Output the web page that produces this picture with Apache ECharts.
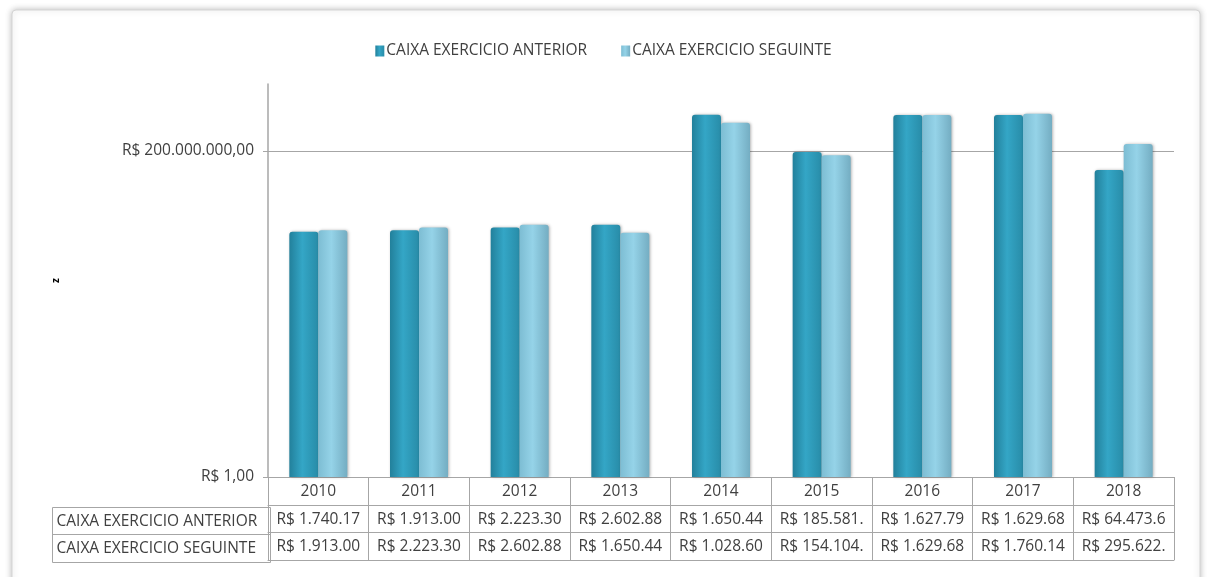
<!DOCTYPE html>
<html>
<head>
<meta charset="utf-8">
<script src="https://cdn.jsdelivr.net/npm/echarts@6/dist/echarts.min.js"></script>
<style>
  html, body { margin: 0; padding: 0; background: #fff; }
  #chart { width: 1207px; height: 577px; }
</style>
</head>
<body>
<div id="chart"></div>
<script>
const years = ['2010', '2011', '2012', '2013', '2014', '2015', '2016', '2017', '2018'];
const seriesNames = ['CAIXA EXERCICIO ANTERIOR', 'CAIXA EXERCICIO SEGUINTE'];

// valores estimados pela altura das barras + tabela
const caixaAnterior = [1740170, 1913000, 2223300, 2602880, 1650440000, 185581000, 1627790000, 1629680000, 64473600];
const caixaSeguinte = [1913000, 2223300, 2602880, 1650440, 1028600000, 154104000, 1629680000, 1760140000, 295622000];

// texto da tabela como aparece (cortado) no original
const tabelaAnterior = ['R$ 1.740.17', 'R$ 1.913.00', 'R$ 2.223.30', 'R$ 2.602.88', 'R$ 1.650.44', 'R$ 185.581.', 'R$ 1.627.79', 'R$ 1.629.68', 'R$ 64.473.6'];
const tabelaSeguinte = ['R$ 1.913.00', 'R$ 2.223.30', 'R$ 2.602.88', 'R$ 1.650.44', 'R$ 1.028.60', 'R$ 154.104.', 'R$ 1.629.68', 'R$ 1.760.14', 'R$ 295.622.'];

const FONT = 'Open Sans';
const FS = 15.5;
const TXT = '#404040';
const LINE = '#a6a6a6';

const chart = echarts.init(document.getElementById('chart'));

function formatReal(v) {
  const n = Math.round(v);
  return 'R$ ' + String(n).replace(/\B(?=(\d{3})+(?!\d))/g, '.') + ',00';
}

const corAnterior = new echarts.graphic.LinearGradient(0, 0, 1, 0, [
  { offset: 0, color: '#22809b' },
  { offset: 0.45, color: '#34a6c6' },
  { offset: 1, color: '#288ca8' }
]);
const corSeguinte = new echarts.graphic.LinearGradient(0, 0, 1, 0, [
  { offset: 0, color: '#7dbdd3' },
  { offset: 0.45, color: '#95d3e8' },
  { offset: 1, color: '#74adc2' }
]);

function tableAxis(offset, labels, tickLen) {
  return {
    type: 'category',
    position: 'bottom',
    offset: offset,
    data: years,
    axisLine: { show: true, lineStyle: { color: LINE, width: 1 } },
    axisTick: { show: tickLen > 0, interval: 0, length: tickLen, lineStyle: { color: LINE } },
    axisLabel: {
      show: !!labels,
      interval: 0,
      margin: 7,
      color: TXT,
      fontFamily: FONT,
      fontSize: FS,
      formatter: (v, i) => labels ? labels[i] : ''
    },
    splitLine: { show: false }
  };
}

const option = {
  backgroundColor: '#fff',
  graphic: [
    {
      type: 'rect',
      shape: { x: 12, y: 10, width: 1188, height: 590, r: 4 },
      style: { fill: '#fff', stroke: '#d4d4d4', lineWidth: 1, shadowBlur: 6, shadowColor: 'rgba(0,0,0,0.25)' },
      z: -10
    },
    {
      type: 'group',
      left: 50,
      top: 505,
      children: [
        { type: 'rect', shape: { x: 0, y: 0, width: 218, height: 55 }, style: { fill: 'none', stroke: LINE, lineWidth: 1 } },
        { type: 'line', shape: { x1: 0, y1: 27, x2: 218, y2: 27 }, style: { stroke: LINE, lineWidth: 1 } },
        { type: 'text', style: { x: 4, y: 14, text: seriesNames[0], fill: TXT, font: FS + 'px "' + FONT + '"', verticalAlign: 'middle' } },
        { type: 'text', style: { x: 4, y: 41, text: seriesNames[1], fill: TXT, font: FS + 'px "' + FONT + '"', verticalAlign: 'middle' } }
      ]
    }
  ],
  legend: {
    top: 38,
    left: 'center',
    itemWidth: 9,
    itemHeight: 11,
    itemGap: 34,
    icon: 'rect',
    textStyle: { color: TXT, fontFamily: FONT, fontSize: FS, padding: [0, 0, 0, -3] },
    data: seriesNames
  },
  grid: { left: 268, right: 33, top: 84, bottom: 100, containLabel: false },
  xAxis: [
    tableAxis(0, years, 28),
    tableAxis(28, tabelaAnterior, 27),
    tableAxis(55, tabelaSeguinte, 28),
    tableAxis(83, null, 0)
  ],
  yAxis: {
    type: 'log',
    logBase: 200000000,
    min: 1,
    max: 10000000000,
    name: 'z',
    nameLocation: 'middle',
    nameGap: 207,
    nameRotate: 90,
    nameTextStyle: { color: '#000', fontFamily: FONT, fontSize: 10, fontWeight: 'bold' },
    axisLine: { show: true, lineStyle: { color: LINE, width: 1.5 } },
    axisTick: { show: true, length: 5, lineStyle: { color: LINE } },
    axisLabel: {
      color: TXT,
      fontFamily: FONT,
      fontSize: FS,
      margin: 14,
      showMaxLabel: false,
      formatter: (v) => v > 1e9 ? '' : formatReal(v)
    },
    splitLine: { show: true, showMinLine: false, showMaxLine: false, lineStyle: { color: LINE, width: 1 } }
  },
  series: [
    {
      name: seriesNames[0],
      type: 'bar',
      xAxisIndex: 0,
      data: caixaAnterior,
      barWidth: 29,
      barGap: '0%',
      itemStyle: {
        color: corAnterior,
        borderRadius: [3, 3, 0, 0],
        shadowColor: 'rgba(0,0,0,0.3)',
        shadowBlur: 3,
        shadowOffsetX: 1
      }
    },
    {
      name: seriesNames[1],
      type: 'bar',
      xAxisIndex: 0,
      data: caixaSeguinte,
      barWidth: 29,
      barGap: '0%',
      itemStyle: {
        color: corSeguinte,
        borderRadius: [3, 3, 0, 0],
        shadowColor: 'rgba(0,0,0,0.3)',
        shadowBlur: 3,
        shadowOffsetX: 1
      }
    }
  ]
};

chart.setOption(option);
</script>
</body>
</html>
